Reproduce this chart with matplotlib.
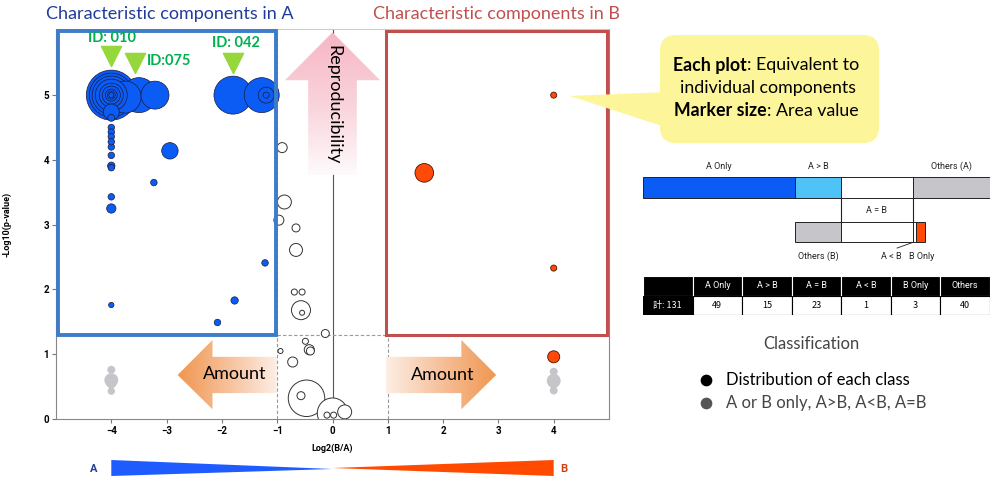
import numpy as np
import matplotlib
matplotlib.use("Agg")
import matplotlib.pyplot as plt
from matplotlib.patches import Polygon, Rectangle, FancyBboxPatch
from matplotlib.colors import LinearSegmentedColormap

plt.rcParams['font.family'] = ['Lato', 'DejaVu Sans']

# components characteristic in A (log2 ratio, -log10 p, marker area)
blue_x = [-4, -4, -4, -4, -4, -4, -4, -4, -4, -3.75, -3.5, -3.21, -4, -4,
          -1.8, -1.28, -1.2, -1.2, -4, -4, -4, -4, -4, -4, -4, -4, -4, -4,
          -2.94, -3.23, -1.22, -1.77, -2.08, -4]
blue_y = [5, 5, 5, 5, 5, 5, 5, 5, 5, 4.97, 5, 5, 4.74, 4.65,
          5, 5, 5, 5, 4.50, 4.43, 4.36, 4.28, 4.20, 4.07, 3.91, 3.88, 3.43, 3.25,
          4.14, 3.65, 2.41, 1.83, 1.49, 1.76]
blue_area = [1296, 1000, 760, 530, 300, 170, 75, 33, 13, 530, 634, 406, 132, 25,
             747, 634, 132, 19, 22, 22, 22, 22, 22, 22, 28, 22, 22, 45,
             140, 22, 22, 28, 22, 15]

# components characteristic in B
orange_x = [4, 1.66, 4, 4]
orange_y = [5, 3.8, 2.33, 0.96]
orange_area = [19, 180, 19, 75]

# class distributions (A or B only)
grey_x = [-4, -4, -4, -4, 4, 4, 4, 4]
grey_y = [0.76, 0.6, 0.55, 0.43, 0.73, 0.59, 0.55, 0.44]
grey_area = [33, 100, 52, 28, 33, 100, 52, 33]

# other components
open_x = [-0.91, -0.87, -0.97, -0.66, -0.66, -0.69, -0.55, -0.57, -0.55, -0.13,
          -0.49, -0.42, -0.40, -0.94, -0.72, -0.47, -0.57, 0.0, 0.22, -0.1, 0.02]
open_y = [4.19, 3.35, 3.07, 2.95, 2.61, 1.96, 1.96, 1.68, 1.64, 1.32,
          1.2, 1.07, 1.05, 1.05, 0.88, 0.32, 0.36, 0.09, 0.11, 0.06, 0.06]
open_area = [52, 101, 52, 33, 87, 19, 19, 187, 13, 33,
             19, 52, 33, 13, 52, 690, 33, 480, 101, 19, 19]

x_ticks = [-4, -3, -2, -1, 0, 1, 2, 3, 4]
y_ticks = [0, 1, 2, 3, 4, 5]

id_labels = ['ID: 010', 'ID:075', 'ID: 042']
id_x = [-4, -3.58, -1.8]

classes = ['A Only', 'A > B', 'A = B', 'A < B', 'B Only', 'Others']
counts = [49, 15, 23, 1, 3, 40]
others_a = 25
others_b = 15

BLUE = '#0a5cf5'
ORANGE = '#ff4a0a'
GREY = '#c6c6ca'

fig = plt.figure(figsize=(10, 4.82), dpi=100)
ax = fig.add_axes([0.056, 0.1307, 0.553, 0.809])


def gradient_arrow(ax, verts, colors, horizontal, z):
    verts = np.array(verts)
    x0, x1 = verts[:, 0].min(), verts[:, 0].max()
    y0, y1 = verts[:, 1].min(), verts[:, 1].max()
    cmap = LinearSegmentedColormap.from_list('g', colors)
    grad = np.linspace(0, 1, 256)
    img = grad[None, :] if horizontal else grad[:, None]
    im = ax.imshow(img, cmap=cmap, extent=(x0, x1, y0, y1), origin='lower',
                   aspect='auto', zorder=z, interpolation='bicubic')
    poly = Polygon(verts, closed=True, fc='none', ec='none')
    ax.add_patch(poly)
    im.set_clip_path(poly)


# guide lines
ax.axvline(0, color='#555555', lw=0.8, zorder=1)
ax.axvline(-1, color='#999999', lw=0.8, ls=(0, (3, 2)), zorder=1)
ax.plot([1, 1], [0, 1.3], color='#999999', lw=0.8, ls=(0, (3, 2)), zorder=1)
ax.plot([-1, 1], [1.3, 1.3], color='#999999', lw=0.8, ls=(0, (3, 2)), zorder=1)

# arrows
gradient_arrow(ax, [(0, 5.97), (-0.86, 5.23), (-0.44, 5.23), (-0.44, 3.77),
                    (0.44, 3.77), (0.44, 5.23), (0.86, 5.23)],
               ['#fefafb', '#f9d3db', '#f6b6c4'], False, 2)
gradient_arrow(ax, [(-2.8, 0.68), (-2.17, 1.22), (-2.17, 0.96), (-1.01, 0.96),
                    (-1.01, 0.40), (-2.17, 0.40), (-2.17, 0.15)],
               ['#f0964f', '#f6c09a', '#fdeee4'], True, 2)
gradient_arrow(ax, [(2.96, 0.68), (2.33, 1.22), (2.33, 0.96), (0.97, 0.96),
                    (0.97, 0.40), (2.33, 0.40), (2.33, 0.15)],
               ['#fdeee4', '#f6c09a', '#f0964f'], True, 2)
ax.text(0.02, 4.85, 'Reproducibility', rotation=-90, ha='center', va='center',
        fontsize=13, zorder=6)
ax.text(-1.77, 0.69, 'Amount', ha='center', va='center', fontsize=13, zorder=6)
ax.text(1.99, 0.68, 'Amount', ha='center', va='center', fontsize=13, zorder=6)


def bubbles(xs, ys, areas, fc, ec, lw):
    order = np.argsort(areas)[::-1]
    ax.scatter(np.array(xs)[order], np.array(ys)[order], s=np.array(areas)[order],
               c=fc, edgecolors=ec, linewidths=lw, zorder=4)


bubbles(open_x, open_y, open_area, 'white', '#333333', 0.7)
bubbles(grey_x, grey_y, grey_area, GREY, 'none', 0)
bubbles(blue_x, blue_y, blue_area, BLUE, '#1a1a3a', 0.5)
bubbles(orange_x, orange_y, orange_area, ORANGE, '#4a1500', 0.6)

# highlight boxes
ax.add_patch(Rectangle((-4.97, 1.3), 3.94, 4.69, fill=False, ec='#3d7cc9',
                       lw=2.8, zorder=5, clip_on=False))
ax.add_patch(Rectangle((0.97, 1.3), 3.99, 4.69, fill=False, ec='#c0504d',
                       lw=2.2, zorder=5, clip_on=False))

# ID markers
id_tri_y = [5.60, 5.50, 5.49]
ax.scatter(id_x, id_tri_y, marker='v', s=210, c='#96d83c', zorder=6, clip_on=False)
ax.text(-3.98, 5.88, id_labels[0], color='#00b050', fontsize=10.5,
        fontweight='bold', ha='center', va='center', zorder=6)
ax.text(-3.35, 5.52, id_labels[1], color='#00b050', fontsize=10.5,
        fontweight='bold', ha='left', va='center', zorder=6)
ax.text(-1.75, 5.80, id_labels[2], color='#00b050', fontsize=10.5,
        fontweight='bold', ha='center', va='center', zorder=6)

ax.set_xlim(-5, 5)
ax.set_ylim(0, 6.02)
ax.set_xticks(x_ticks)
ax.set_yticks(y_ticks)
ax.tick_params(direction='out', length=3, color='#777777', labelsize=7, pad=2)
for lab in ax.get_xticklabels() + ax.get_yticklabels():
    lab.set_fontweight('bold')
    lab.set_family(['Roboto', 'DejaVu Sans'])
for sp in ax.spines.values():
    sp.set_color('#888888')
    sp.set_linewidth(0.8)
ax.spines['top'].set_color('#cccccc')
ax.set_xlabel('Log2(B/A)', fontsize=6.5, fontweight='bold', family=['Roboto', 'DejaVu Sans'])
ax.set_ylabel('-Log10(p-value)', fontsize=6.5, fontweight='bold', family=['Roboto', 'DejaVu Sans'])
ax.xaxis.set_label_coords(0.5, -0.062)
ax.yaxis.set_label_coords(-0.08, 0.5)

# direction wedge under the x axis
wx = fig.add_axes([0.056, 1 - 478 / 482, 0.553, 20 / 482])
wx.fill([-4, -4, 0], [0.9, 0.1, 0.45], color='#1f5cff', lw=0)
wx.fill([4, 4, 0], [0.9, 0.1, 0.5], color='#ff4a00', lw=0)
wx.text(-4.25, 0.45, 'A', color='#1f3c9c', fontsize=8, fontweight='bold',
        ha='right', va='center', family=['Roboto', 'DejaVu Sans'])
wx.text(4.12, 0.45, 'B', color='#d04010', fontsize=8, fontweight='bold',
        ha='left', va='center', family=['Roboto', 'DejaVu Sans'])
wx.set_xlim(-5, 5)
wx.set_ylim(0, 1)
wx.axis('off')

# class composition bars
bx = fig.add_axes([643 / 1000, 1 - 265 / 482, 347 / 1000, 110 / 482])
cum = np.cumsum([0] + counts[:3])
h = 0.45
top_left = [cum[0], cum[1], cum[2], cum[3]]
top_w = [counts[0], counts[1], counts[2], others_a]
top_c = [BLUE, '#4fc3f7', 'white', GREY]
bx.barh(1, top_w, left=top_left, height=h, color=top_c, edgecolor='#222222', lw=0.7)
bot_left = [cum[1], cum[2], cum[3], cum[3] + counts[3]]
bot_w = [others_b, counts[2], counts[3], counts[4]]
bot_c = [GREY, 'white', 'white', ORANGE]
bx.barh(0, bot_w, left=bot_left, height=h, color=bot_c, edgecolor='#222222', lw=0.7)
bx.plot([cum[2], cum[2]], [1 - h / 2, h / 2], color='#222222', lw=0.8)
bx.plot([cum[3], cum[3]], [1 - h / 2, h / 2], color='#222222', lw=0.8)
lab_kw = dict(fontsize=6.5, ha='center', va='center', color='#222222',
              family=['Roboto', 'DejaVu Sans'])
bx.text(cum[0] + counts[0] / 2, 1.48, 'A Only', **lab_kw)
bx.text(cum[1] + counts[1] / 2, 1.48, 'A > B', **lab_kw)
bx.text(cum[3] + others_a / 2, 1.48, 'Others (A)', **lab_kw)
bx.text(cum[2] + counts[2] / 2, 0.49, 'A = B', **lab_kw)
bx.text(cum[1] + others_b / 2, -0.54, 'Others (B)', **lab_kw)
bx.text(80.2, -0.54, 'A < B', **lab_kw)
bx.text(89.8, -0.54, 'B Only', **lab_kw)
bx.plot([cum[3] + 0.4, 82], [-h / 2, -0.36], color='#222222', lw=0.6)
bx.set_xlim(0, 112)
bx.set_ylim(-0.74, 1.73)
bx.axis('off')

# summary table
tx = fig.add_axes([643 / 1000, 1 - 315 / 482, 347 / 1000, 39 / 482])
header = [''] + classes
values = ['計: ' + str(sum(counts))] + [str(v) for v in counts]
for i in range(len(header)):
    tx.add_patch(Rectangle((i, 1), 1, 1, fc='black', ec='white', lw=0.8))
    tx.text(i + 0.5, 1.5, header[i], color='white', ha='center', va='center',
            fontsize=6.5, family=['Roboto', 'DejaVu Sans'])
    dark = i == 0
    tx.add_patch(Rectangle((i, 0), 1, 1, fc='black' if dark else 'white',
                           ec='black', lw=0.8))
    tx.text(i + 0.5, 0.5, values[i], color='white' if dark else 'black',
            ha='center', va='center', fontsize=6.5,
            family=['Noto Sans CJK JP', 'DejaVu Sans'])
tx.set_xlim(0, 7)
tx.set_ylim(0, 2)
tx.axis('off')

# overlay for titles, callout and legend (pixel coordinates)
ov = fig.add_axes([0, 0, 1, 1], zorder=10)
ov.set_xlim(0, 1000)
ov.set_ylim(482, 0)
ov.axis('off')
ov.patch.set_alpha(0)

ov.text(170, 14, 'Characteristic components in A', color='#1f3c9c', fontsize=13,
        ha='center', va='center')
ov.text(496, 14, 'Characteristic components in B', color='#c0504d', fontsize=13,
        ha='center', va='center')

ov.add_patch(Polygon([(570, 96), (668, 92), (668, 128)], closed=True,
                     fc='#fdf59a', ec='none'))
ov.add_patch(FancyBboxPatch((660, 35), 219, 108,
                            boxstyle='round,pad=0,rounding_size=16',
                            fc='#fdf59a', ec='none'))
ov.text(747, 65, 'Each plot', fontsize=12.8, fontweight='bold', ha='right', va='center')
ov.text(747, 65, ': Equivalent to', fontsize=12.8, ha='left', va='center')
ov.text(768, 88, 'individual components', fontsize=12.8, ha='center', va='center')
ov.text(767, 111, 'Marker size', fontsize=12.8, fontweight='bold', ha='right', va='center')
ov.text(767, 111, ': Area value', fontsize=12.8, ha='left', va='center')

ov.text(811, 344, 'Classification', color='#444444', fontsize=12,
        ha='center', va='center')
ov.scatter([706], [380], s=55, c='black')
ov.scatter([706], [403], s=55, c='#555555')
ov.text(726, 380, 'Distribution of each class', color='black', fontsize=12,
        ha='left', va='center')
ov.text(726, 403, 'A or B only, A>B, A<B, A=B', color='#444444', fontsize=12,
        ha='left', va='center')

fig.savefig('out.png', dpi=100, facecolor='white')
